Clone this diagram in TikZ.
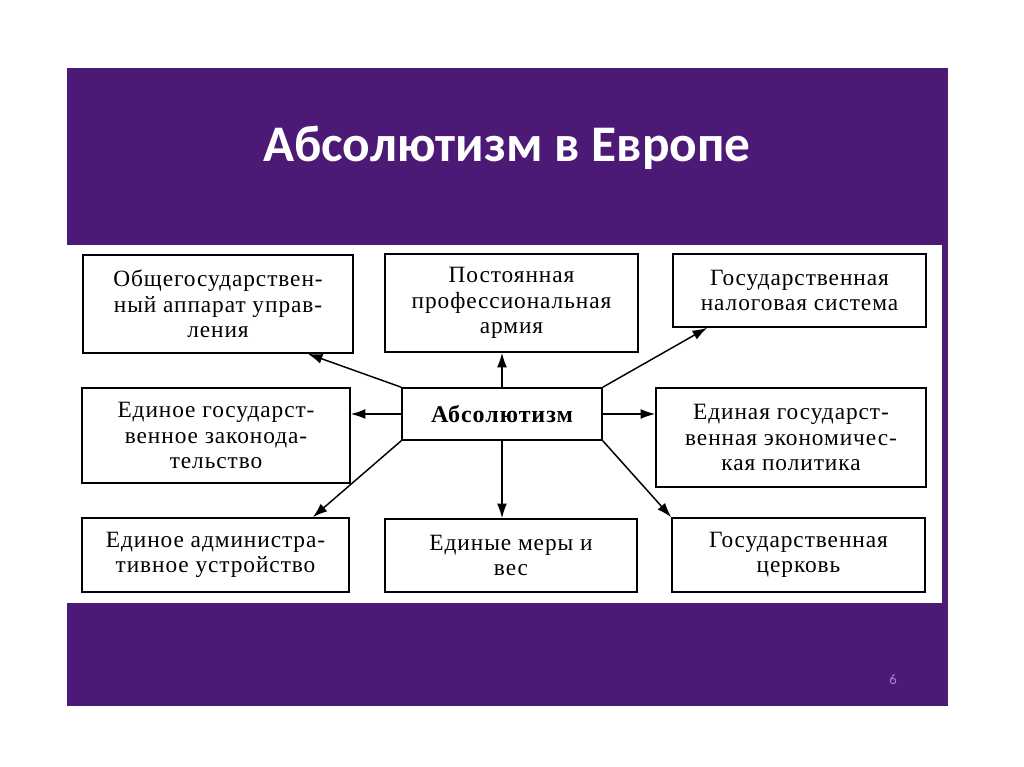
\documentclass[tikz,border=0pt]{standalone}
\usepackage{fontspec}
\setmainfont{Liberation Serif}
\newfontfamily\titlefont{Carlito}
\newfontfamily\boxfont{Liberation Serif}[LetterSpace=4]
\usetikzlibrary{positioning,arrows.meta}
\definecolor{slidepurple}{RGB}{76,26,118}
\definecolor{numcolor}{RGB}{170,130,205}

\begin{document}
\begin{tikzpicture}[x=0.75pt, y=-0.75pt, >={Latex[length=11pt,width=7.5pt]},
    box/.style={draw, line width=1.2pt, align=center, inner sep=0pt,
        font=\boxfont\fontsize{17.5}{19}\selectfont},
    link/.style={->, line width=1.1pt}]
    \useasboundingbox (0,0) rectangle (1024,767);
    % Фон слайда
    \fill[slidepurple] (67,68) rectangle (948,706);
    \fill[white] (67,245) rectangle (942,603);
    \node[white, font=\titlefont\bfseries\fontsize{38.5}{44}\selectfont] (title) at (507,148) {Абсолютизм в Европе};
    \node[numcolor, font=\titlefont\fontsize{11}{13}\selectfont] (num) at (893,680) {6};

    % Блоки схемы
    \node[box, minimum width=150pt, minimum height=39pt, font=\boxfont\bfseries\fontsize{18}{20}\selectfont] (absol) at (502,414) {Абсолютизм};
    \node[box, minimum width=202.5pt, minimum height=73.5pt] (apparat) at (218,304) {Общегосударствен-\\ный аппарат управ-\\ления};
    \node[box, minimum width=189.75pt, minimum height=73.5pt] (armiya) at (511.5,303) {Постоянная\\профессиональная\\армия};
    \node[box, minimum width=189.75pt, minimum height=54.75pt] (nalog) at (799.5,290.5) {Государственная\\налоговая система};
    \node[box, minimum width=201pt, minimum height=71.25pt] (zakon) at (216,435.5) {Единое государст-\\венное законода-\\тельство};
    \node[box, minimum width=202.5pt, minimum height=74.25pt] (ekonom) at (791,437.5) {Единая государст-\\венная экономичес-\\кая политика};
    \node[box, minimum width=200.25pt, minimum height=55.5pt] (admin) at (215.5,555) {Единое администра-\\тивное устройство};
    \node[box, minimum width=189pt, minimum height=54.75pt] (mery) at (511,555.5) {Единые меры и\\вес};
    \node[box, minimum width=189.75pt, minimum height=55.5pt] (cerkov) at (798.5,555) {Государственная\\церковь};

    % Стрелки
    \draw[link] (absol.north) -- (absol.north |- armiya.south);
    \draw[link] (absol.west) -- (absol.west -| zakon.east);
    \draw[link] (absol.east) -- (absol.east -| ekonom.west);
    \draw[link] (absol.south) -- (absol.south |- mery.north);
    \draw[link] (absol.north west) -- ([xshift=-34.5pt]apparat.south east);
    \draw[link] (absol.north east) -- ([xshift=26.25pt]nalog.south west);
    \draw[link] (absol.south west) -- ([xshift=-27.75pt]admin.north east);
    \draw[link] (absol.south east) -- (cerkov.north west);
\end{tikzpicture}
\end{document}
